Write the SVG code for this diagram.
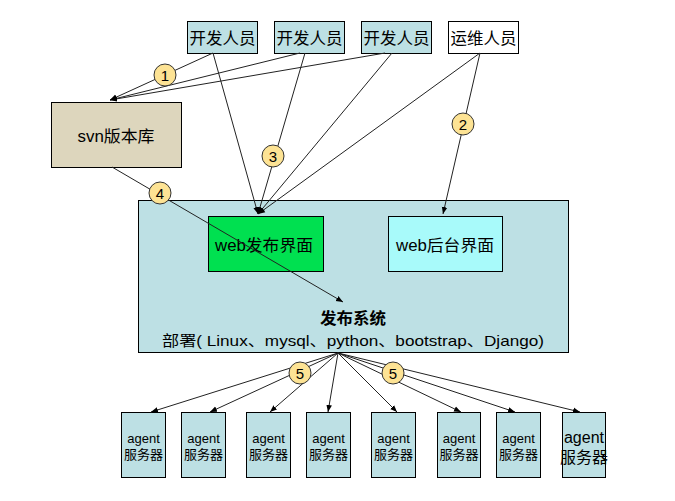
<svg xmlns="http://www.w3.org/2000/svg" width="675" height="501" viewBox="0 0 675 501">
<defs>
<style>
.box{stroke:#000;stroke-width:1}
.teal{fill:#bde0e4}
.t{font-family:"Liberation Sans","Noto Sans CJK SC",sans-serif;fill:#000;text-anchor:middle}
.f16{font-size:16px}
.f15{font-size:15px}
.f13{font-size:13px}
.c{fill:#fde394;stroke:#333;stroke-width:1}
.ln{stroke:#222;stroke-width:1;fill:none}
.ar{marker-end:url(#ah)}
</style>
<marker id="ah" viewBox="0 0 10 10" refX="10" refY="5" markerWidth="7" markerHeight="7" markerUnits="userSpaceOnUse" orient="auto">
<path d="M0,1 L10,5 L0,9 z" fill="#000"/>
</marker>
</defs>
<rect width="675" height="501" fill="#fff"/>

<g id="main">
<rect class="box teal" x="138.5" y="200.5" width="430" height="152"/>
<text class="t f16" x="353" y="324" font-weight="bold" textLength="66" lengthAdjust="spacingAndGlyphs">发布系统</text>
<text class="t f15" x="353" y="346" textLength="382" lengthAdjust="spacingAndGlyphs">部署( Linux、mysql、python、bootstrap、Django)</text>
</g>

<g id="dev1"><rect class="box teal" x="187.5" y="21.5" width="70" height="32"/><text class="t f16" x="222.5" y="43.5" textLength="66" lengthAdjust="spacingAndGlyphs">开发人员</text></g>
<g id="dev2"><rect class="box teal" x="274.5" y="21.5" width="70" height="32"/><text class="t f16" x="309.5" y="43.5" textLength="66" lengthAdjust="spacingAndGlyphs">开发人员</text></g>
<g id="dev3"><rect class="box teal" x="361.5" y="21.5" width="70" height="32"/><text class="t f16" x="396.5" y="43.5" textLength="66" lengthAdjust="spacingAndGlyphs">开发人员</text></g>
<g id="ops"><rect class="box" fill="#fff" x="448.5" y="21.5" width="70" height="32"/><text class="t f16" x="483.5" y="43.5" textLength="66" lengthAdjust="spacingAndGlyphs">运维人员</text></g>

<g id="svn"><rect class="box" fill="#ddd6bd" x="51.5" y="102.5" width="130" height="65"/><text class="t f16" x="116" y="142" textLength="77" lengthAdjust="spacingAndGlyphs">svn版本库</text></g>

<g id="web-publish"><rect class="box" fill="#00e050" x="208.5" y="216.5" width="115" height="55"/><text class="t f16" x="264" y="250.5" textLength="98" lengthAdjust="spacingAndGlyphs">web发布界面</text></g>
<g id="web-admin"><rect class="box" fill="#a8fafa" x="388.5" y="216.5" width="114" height="55"/><text class="t f16" x="445" y="250.5" textLength="98" lengthAdjust="spacingAndGlyphs">web后台界面</text></g>

<g id="agent1"><rect class="box teal" x="121.5" y="412.5" width="44" height="65"/><text class="t f13" x="143.5" y="443">agent</text><text class="t f13" x="143.5" y="459">服务器</text></g>
<g id="agent2"><rect class="box teal" x="181.5" y="412.5" width="44" height="65"/><text class="t f13" x="203.5" y="443">agent</text><text class="t f13" x="203.5" y="459">服务器</text></g>
<g id="agent3"><rect class="box teal" x="246.5" y="412.5" width="44" height="65"/><text class="t f13" x="268.5" y="443">agent</text><text class="t f13" x="268.5" y="459">服务器</text></g>
<g id="agent4"><rect class="box teal" x="306.5" y="412.5" width="44" height="65"/><text class="t f13" x="328.5" y="443">agent</text><text class="t f13" x="328.5" y="459">服务器</text></g>
<g id="agent5"><rect class="box teal" x="371.5" y="412.5" width="44" height="65"/><text class="t f13" x="393.5" y="443">agent</text><text class="t f13" x="393.5" y="459">服务器</text></g>
<g id="agent6"><rect class="box teal" x="437.5" y="412.5" width="43" height="65"/><text class="t f13" x="459" y="443">agent</text><text class="t f13" x="459" y="459">服务器</text></g>
<g id="agent7"><rect class="box teal" x="496.5" y="412.5" width="44" height="65"/><text class="t f13" x="518.5" y="443">agent</text><text class="t f13" x="518.5" y="459">服务器</text></g>
<g id="agent8"><rect class="box teal" x="562.5" y="412.5" width="43" height="65"/><text class="t" font-size="16" x="584" y="443">agent</text><text class="t" font-size="16" x="584" y="463">服务器</text></g>

<g id="connectors">
<line class="ln ar" x1="213" y1="53" x2="110" y2="100"/>
<line class="ln ar" x1="300" y1="53" x2="110" y2="100"/>
<line class="ln ar" x1="385" y1="53" x2="110" y2="100"/>
<line class="ln ar" x1="213" y1="53" x2="258" y2="214"/>
<line class="ln ar" x1="305" y1="53" x2="258" y2="214"/>
<line class="ln ar" x1="392" y1="53" x2="258" y2="214"/>
<line class="ln ar" x1="480" y1="53" x2="258" y2="214"/>
<line class="ln ar" x1="480" y1="53" x2="443" y2="214"/>
<line class="ln ar" x1="112" y1="167" x2="343" y2="302"/>
<line class="ln ar" x1="338" y1="353" x2="151" y2="412"/>
<line class="ln ar" x1="338" y1="353" x2="210" y2="412"/>
<line class="ln ar" x1="338" y1="353" x2="270" y2="412"/>
<line class="ln ar" x1="338" y1="353" x2="328" y2="412"/>
<line class="ln ar" x1="338" y1="353" x2="397" y2="412"/>
<line class="ln ar" x1="338" y1="353" x2="461" y2="412"/>
<line class="ln ar" x1="338" y1="353" x2="515" y2="412"/>
<line class="ln ar" x1="338" y1="353" x2="580" y2="412"/>
</g>

<g id="labels">
<circle class="c" cx="165" cy="75" r="11"/><text class="t f15" x="165" y="80.5">1</text>
<circle class="c" cx="463" cy="124" r="11"/><text class="t f15" x="463" y="129.5">2</text>
<circle class="c" cx="273" cy="156" r="11"/><text class="t f15" x="273" y="161.5">3</text>
<circle class="c" cx="160" cy="193" r="11"/><text class="t f15" x="160" y="198.5">4</text>
<circle class="c" cx="300" cy="373" r="11"/><text class="t f15" x="300" y="378.5">5</text>
<circle class="c" cx="393" cy="373" r="11"/><text class="t f15" x="393" y="378.5">5</text>
</g>
</svg>
